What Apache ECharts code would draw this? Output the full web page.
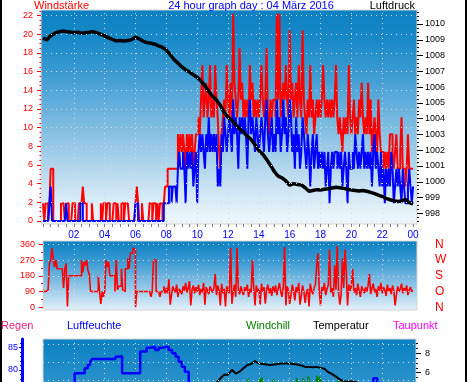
<!DOCTYPE html>
<html><head><meta charset="utf-8">
<script src="https://cdn.jsdelivr.net/npm/echarts@6/dist/echarts.min.js"></script>
<style>html,body{margin:0;padding:0;background:#fff}#c{width:470px;height:382px}</style>
</head><body><div id="c"></div>
<script>
// ---------------- DATA ----------------
// 5-minute samples, 00:00 .. 24:00 (km/h)
const windGust = [
1.9,0,1.9,1.9,0,1.9,5.6,5.6,0,0,0,0,
0,0,1.9,1.9,1.9,0,1.9,1.9,0,0,0,1.9,
1.9,0,0,0,1.9,1.9,1.9,3.7,1.9,1.9,0,0,
0,0,1.9,0,0,0,0,0,0,1.9,0,1.9,
1.9,0,1.9,1.9,0,0,0,1.9,1.9,0,1.9,0,
0,1.9,1.9,0,1.9,1.9,1.9,0,0,0,0,0,
1.9,3.7,1.9,0,0,1.9,0,0,0,0,0,1.9,
1.9,0,1.9,1.9,0,1.9,0,1.9,1.9,0,1.9,3.7,
3.7,5.6,5.6,5.6,5.6,5.6,5.6,5.6,5.6,9.3,7.4,9.3,
7.4,9.3,7.4,5.6,9.3,7.4,9.3,7.4,9.3,5.6,7.4,9.3,
9.3,11.1,9.3,13,16.7,11.1,13,14.8,11.1,13,16.7,11.1,
13,11.1,16.7,13,11.1,7.4,5.6,9.3,11.1,13,11.1,16.7,
13,11.1,14.8,11.1,22.2,14.8,13,11.1,13,18.5,13,14.8,
11.1,13,11.1,13,11.1,16.7,13,14.8,11.1,13,11.1,13,
11.1,13,16.7,13,11.1,13,18.5,11.1,9.3,13,11.1,13,
13,11.1,22.2,13,22.2,11.1,13,14.8,13,16.7,13,11.1,
20.4,13,14.8,11.1,13,14.8,11.1,16.7,13,11.1,20.4,13,
11.1,9.3,13,11.1,16.7,11.1,13,9.3,11.1,13,11.1,13,
11.1,13,16.7,13,11.1,13,11.1,13,11.1,13,11.1,13,
16.7,11.1,9.3,11.1,9.3,7.4,11.1,9.3,11.1,9.3,16.7,11.1,
9.3,11.1,13,9.3,11.1,9.3,13,11.1,14.8,11.1,9.3,11.1,
9.3,14.8,9.3,13,7.4,9.3,11.1,9.3,7.4,13,9.3,7.4,
7.4,5.6,7.4,5.6,7.4,5.6,9.3,9.3,7.4,5.6,7.4,9.3,
5.6,5.6,7.4,11.1,5.6,5.6,3.7,5.6,9.3,5.6,5.6,5.6,
5.6];
const windSpeed = [
0,0,0,0,0,1.9,3.7,0,0,0,0,0,
0,0,0,0,0,0,1.9,0,0,0,0,0,
0,0,0,0,0,1.9,1.9,0,0,0,0,0,
0,0,0,0,0,0,0,0,0,0,0,0,
0,0,0,0,0,0,0,0,0,0,0,0,
0,0,0,0,0,0,0,0,0,0,0,0,
1.9,1.9,0,0,0,0,0,0,0,0,0,0,
0,0,0,0,0,0,0,0,0,0,1.9,1.9,
1.9,1.9,3.7,3.7,1.9,3.7,3.7,3.7,1.9,5.6,7.4,5.6,
5.6,7.4,5.6,1.9,7.4,5.6,7.4,5.6,7.4,3.7,5.6,7.4,
1.9,7.4,9.3,7.4,9.3,7.4,5.6,9.3,7.4,11.1,7.4,9.3,
7.4,9.3,7.4,9.3,3.7,5.6,3.7,9.3,7.4,11.1,9.3,7.4,
9.3,11.1,9.3,7.4,13,9.3,11.1,9.3,5.6,11.1,9.3,11.1,
9.3,11.1,9.3,5.6,11.1,13,9.3,11.1,9.3,7.4,11.1,9.3,
7.4,9.3,11.1,9.3,7.4,11.1,13,9.3,7.4,9.3,11.1,7.4,
9.3,7.4,13,9.3,11.1,7.4,9.3,13,9.3,11.1,7.4,9.3,
13,11.1,7.4,9.3,5.6,11.1,7.4,9.3,5.6,7.4,11.1,9.3,
7.4,5.6,9.3,7.4,3.7,7.4,9.3,5.6,7.4,9.3,5.6,7.4,
5.6,7.4,5.6,7.4,3.7,5.6,7.4,1.9,5.6,7.4,5.6,7.4,
7.4,5.6,7.4,5.6,7.4,3.7,5.6,7.4,5.6,1.9,7.4,5.6,
5.6,7.4,5.6,9.3,7.4,5.6,7.4,5.6,7.4,9.3,5.6,7.4,
5.6,7.4,5.6,7.4,3.7,7.4,9.3,5.6,7.4,5.6,3.7,7.4,
3.7,5.6,1.9,5.6,3.7,5.6,3.7,7.4,5.6,1.9,3.7,5.6,
3.7,5.6,3.7,1.9,5.6,3.7,1.9,1.9,3.7,5.6,3.7,1.9,
3.7];
// wind direction, degrees, 5-minute samples
const windDir = [
90,90,90,100,110,250,270,340,280,230,270,220,
220,220,220,220,110,220,250,5,180,180,180,180,
180,180,180,180,180,180,270,200,260,240,270,210,
190,90,90,90,90,90,90,180,90,20,90,60,
90,270,230,260,180,180,180,180,90,270,100,120,
120,220,100,90,220,220,280,220,310,310,340,330,
0,90,90,90,90,90,90,90,90,90,90,90,
60,90,270,270,90,90,90,60,90,90,120,80,
110,80,160,15,70,120,100,85,130,60,105,90,
75,120,95,140,85,110,150,10,100,125,80,115,
90,130,70,105,85,140,15,115,95,75,120,100,
85,110,190,70,125,95,10,135,80,105,5,120,
95,80,340,20,85,130,60,340,100,75,120,90,
70,115,95,130,60,105,85,270,110,10,125,90,
105,15,135,90,115,20,100,130,80,110,65,120,
85,125,70,105,140,90,60,115,345,10,120,95,
20,70,130,95,40,115,85,140,15,65,125,90,
25,85,105,5,135,95,75,110,130,240,310,90,
10,115,95,140,70,105,125,330,85,110,60,240,
100,350,90,15,70,280,110,330,200,10,130,95,
120,220,85,110,70,135,95,60,120,100,80,115,
90,125,190,75,110,135,85,105,60,120,95,140,
80,115,100,65,130,90,110,75,125,95,10,70,
120,90,105,135,80,110,95,125,70,100,115,90,
95];
// air pressure hPa, 15-minute samples
const pressure = [
1009.10,1009.00,1009.25,1009.40,1009.50,1009.55,1009.52,1009.50,1009.45,1009.48,1009.42,1009.45,
1009.48,1009.52,1009.44,1009.35,1009.25,1009.12,1009.02,1008.93,1008.95,1008.92,1008.95,1009.02,
1009.18,1009.05,1008.90,1008.82,1008.78,1008.72,1008.62,1008.52,1008.35,1008.05,1007.75,1007.52,
1007.28,1007.10,1006.95,1006.78,1006.62,1006.38,1006.10,1005.72,1005.42,1005.18,1004.85,1004.38,
1004.10,1003.90,1003.62,1003.35,1003.15,1002.88,1002.68,1002.35,1001.98,1001.75,1001.42,1001.05,
1000.65,1000.35,1000.25,1000.05,999.78,999.88,999.82,999.80,999.62,999.40,999.45,999.50,
999.48,999.52,999.55,999.60,999.65,999.62,999.58,999.52,999.48,999.45,999.42,999.44,
999.40,999.33,999.25,999.15,999.05,998.95,998.86,998.80,998.75,998.78,998.88,998.68,
998.60];
// temperature °C, 15-minute samples
const temperature = [
3.8,3.7,3.7,3.6,3.6,3.5,3.5,3.4,3.4,3.3,3.3,3.3,
3.2,3.2,3.1,3.1,3.0,3.0,3.0,2.9,2.9,2.9,2.8,2.8,
2.8,2.9,2.9,3.0,3.1,3.2,3.3,3.4,3.5,3.6,3.7,3.8,
3.9,4.0,4.1,4.2,4.3,4.4,4.6,4.7,4.8,4.95,5.4,5.8,
5.8,6.3,5.9,6.1,6.45,6.8,6.9,7.2,6.95,6.9,6.85,6.8,
6.85,6.9,6.95,6.95,6.95,6.9,6.85,6.75,6.6,6.6,6.55,6.6,
6.5,6.4,6.05,5.85,5.6,5.3,5.12,5.1,5.1,5.05,4.9,4.7,
4.5,4.4,4.3,4.2,4.1,4.0,3.9,3.8,3.7,3.6,3.6,3.5,
3.5];
// windchill °C, change points (hour, value)
const wcHours = [0,2,4,6,8,10,11,12,13,13.3,13.42,13.6,14.07,14.13,14.18,14.26,14.6,14.94,15.05,15.5,16,16.45,16.56,16.88,16.95,17.2,17.3,17.75,17.85,17.95,18.07,18.5,19.07,19.17,19.22,19.3,20,21,22,23,24];
const windchill = [3.5,3.1,2.8,2.6,2.1,2.6,3.0,3.8,4.5,5.35,4.7,4.9,5.42,4.8,5.49,4.7,4.6,5.35,4.6,4.7,4.8,5.42,4.8,5.42,4.9,5.63,4.8,5.69,4.9,5.6,4.6,4.3,5.15,4.4,5.1,4.0,3.8,3.2,2.8,2.5,2.3];
// dew point °C, hourly
const dewPoint = [0.5,0.6,0.8,0.9,0.9,0.9,0.8,0.8,0.9,1.0,0.9,0.6,0.4,0.3,0.2,0.3,0.4,0.5,0.6,0.7,0.6,0.5,0.4,0.3,0.2];
// humidity %, change points
const humHours = [0,1,2.05,2.7,2.9,3.05,3.17,4.7,4.85,5.13,6.3,6.72,6.94,7.27,7.5,7.7,8.15,8.37,8.6,8.8,9.0,9.2,9.45,10,11,12,13,14,15,16,17,18,19,20,21,21.42,21.68,22,23,24];
const humidity = [76,77,79.3,80.4,81.1,81.8,82.4,82.9,83.1,79.3,84.1,84.9,85.1,84.4,84.9,85.1,84.4,83.7,82.9,81.8,80.7,79.6,76,72,68,65,63,62,63,65,68,71,73,75,77,78.2,77,76,76,76];

// ticks / labels
const hourTickValues = [2,4,6,8,10,12,14,16,18,20,22,24];
const hourTickLabels = ['02','04','06','08','10','12','14','16','18','20','22','00'];
const windTicks = [0,2,4,6,8,10,12,14,16,18,20,22];
const pressTicks = [998,999,1000,1001,1002,1003,1004,1005,1006,1007,1008,1009,1010];
const dirTicks = [0,90,180,270,360];
const dirNames = ['N','O','S','W','N'];
const humTicks = [60,65,70,75,80,85];
const tempTicks = [-2,0,2,4,6,8];
const botGridValues = [85.7,81.8,77.8,73.8,69.8,65.9,61.9];

// ---------------- LAYOUT ----------------
const F = '"Liberation Sans", Arial, sans-serif';
const RED = '#ff0000', BLUE = '#0000ff';
const HOUR0_X = 43, PX_PER_HOUR = 15.42;
const hourAt = px => (px - HOUR0_X) / PX_PER_HOUR;
const TOP = {l:41, r:417, t:10, b:224};
const MID = {l:43, r:417, t:241, b:310};
const BOT = {l:43, r:416, t:339, b:469};
const WIND0_Y = 221, WIND_PX = 9.336;
const P998_Y = 213.3, P_PX = 15.775;
const DIR0_Y = 307.3, DIR_PX = 0.175;
const H85_Y = 347.3, H_PX = 4.54;
const T8_Y = 353.3, T_PX = 9.7;

function range(a, b, s) { const r = []; for (let v = a; v <= b + 1e-9; v += s) r.push(Math.round(v * 1000) / 1000); return r; }
const halfHours = range(0, 24, 0.5);

const grad = stops => ({type:'linear', x:0, y:0, x2:0, y2:1, colorStops: stops.map(s => ({offset:s[0], color:s[1]}))});
function gridOf(g, bg) {
  return {left:g.l, top:g.t, width:g.r - g.l, height:g.b - g.t, show:true, backgroundColor:bg,
          borderColor:'#d4d4d4', borderWidth:1, containLabel:false, outerBoundsMode:'none'};
}
function yAx(grid, pos, min, max, o) {
  const base = {gridIndex:grid, type:'value', position:pos, min:min, max:max,
    axisLine:{show:false, onZero:false}, splitLine:{show:false}, axisTick:{show:false}, axisLabel:{show:false}};
  const r = Object.assign(base, o);
  r.axisLine = Object.assign({onZero:false}, r.axisLine);
  return r;
}
function xAx(grid, g, o) {
  return Object.assign({gridIndex:grid, type:'value', position:'bottom', min:hourAt(g.l), max:hourAt(g.r),
    axisLine:{show:false, onZero:false}, splitLine:{show:false}, axisTick:{show:false}, axisLabel:{show:false}}, o);
}
function gridLines(xi, yi, hv, vv) {
  return {type:'line', xAxisIndex:xi, yAxisIndex:yi, data:[], silent:true, z:1, animation:false,
    markLine:{silent:true, symbol:['none','none'], animation:false, label:{show:false},
      emphasis:{disabled:true},
      lineStyle:{color:'#d8d8d8', width:1, type:[1,4]},
      data: hv.map(v => ({yAxis:v})).concat(vv.map(v => ({xAxis:v})))}};
}
const pairs = (xs, ys) => ys.map((y, i) => [xs[i], y]);
const t5 = windGust.map((_, i) => i / 12);
const t15 = pressure.map((_, i) => i / 4);
const t60 = dewPoint.map((_, i) => i);

const windMin = -(TOP.b - WIND0_Y) / WIND_PX, windMax = (WIND0_Y - TOP.t) / WIND_PX;
const pMin = 998 - (TOP.b - P998_Y) / P_PX, pMax = 998 + (P998_Y - TOP.t) / P_PX;
const dMin = -(MID.b - DIR0_Y) / DIR_PX, dMax = (DIR0_Y - MID.t) / DIR_PX;
const hMin = 85 - (BOT.b - H85_Y) / H_PX, hMax = 85 + (H85_Y - BOT.t) / H_PX;
const tMin = 8 - (BOT.b - T8_Y) / T_PX, tMax = 8 + (T8_Y - BOT.t) / T_PX;

const gTop = grad([[0,'#0a80c2'],[0.15,'#1a8ac8'],[0.35,'#4aa2d6'],[0.55,'#80bde2'],[0.75,'#b6d9ef'],[0.9,'#dcedf8'],[1,'#f2f8fd']]);
const gMid = grad([[0,'#0a80c2'],[0.3,'#3a9ad2'],[0.7,'#9ccbea'],[1,'#e6f2fa']]);
const gBot = grad([[0,'#0a80c2'],[0.33,'#2a92cc'],[0.6,'#7ab9e0'],[1,'#e8f3fa']]);

const lbl = (color, size, margin, extra) => Object.assign({show:true, color:color, fontSize:size, margin:margin, fontFamily:F}, extra || {});
const plain = v => String(Math.round(v));

const option = {
  animation:false,
  backgroundColor:'#ffffff',
  grid:[gridOf(TOP, gTop), gridOf(MID, gMid), gridOf(BOT, gBot)],
  xAxis:[
    xAx(0, TOP, {axisTick:{show:true, customValues:halfHours, length:3, lineStyle:{color:'#808080'}},
      axisLabel:lbl(BLUE, 10, 6, {customValues:hourTickValues,
        formatter: v => hourTickLabels[hourTickValues.indexOf(Math.round(v))]})}),
    xAx(1, MID, {}),
    xAx(2, BOT, {})
  ],
  yAxis:[
    yAx(0, 'left', windMin, windMax, {axisTick:{show:true, customValues:windTicks, length:4, lineStyle:{color:RED}},
      axisLabel:lbl(RED, 9, 8, {customValues:windTicks, formatter:plain})}),
    yAx(0, 'left', windMin, windMax, {axisTick:{show:true, customValues:range(0, 22.5, 0.5), length:1.5, lineStyle:{color:RED}}}),
    yAx(0, 'right', pMin, pMax, {axisTick:{show:true, customValues:pressTicks, length:6, lineStyle:{color:'#000'}},
      axisLabel:lbl('#000', 9, 8, {customValues:pressTicks, formatter:plain})}),
    yAx(0, 'right', pMin, pMax, {axisTick:{show:true, customValues:range(997.5, 1010.75, 0.25), length:2, lineStyle:{color:'#000'}}}),
    yAx(1, 'left', dMin, dMax, {axisTick:{show:true, customValues:dirTicks, length:4, lineStyle:{color:RED}},
      axisLabel:lbl(RED, 9, 8, {customValues:dirTicks, formatter:plain})}),
    yAx(1, 'left', dMin, dMax, {axisTick:{show:true, customValues:[45,135,225,315], length:2, lineStyle:{color:RED}}}),
    yAx(1, 'right', dMin, dMax, {axisLabel:lbl(RED, 12, 18, {customValues:dirTicks,
      formatter: v => dirNames[dirTicks.indexOf(Math.round(v))]})}),
    yAx(2, 'left', hMin, hMax, {offset:BOT.l - 22, axisLine:{show:true, onZero:false, lineStyle:{color:BLUE, width:3}},
      axisTick:{show:true, customValues:humTicks, length:3, lineStyle:{color:BLUE}},
      axisLabel:lbl(BLUE, 9, 4, {customValues:humTicks, formatter:plain})}),
    yAx(2, 'left', hMin, hMax, {offset:BOT.l - 22, axisTick:{show:true, customValues:range(59, 86, 1), length:2, lineStyle:{color:BLUE}}}),
    yAx(2, 'right', tMin, tMax, {axisTick:{show:true, customValues:tempTicks, length:5, lineStyle:{color:'#000'}},
      axisLabel:lbl('#000', 9, 9, {customValues:tempTicks, formatter:plain})}),
    yAx(2, 'right', tMin, tMax, {axisTick:{show:true, customValues:range(-3.5, 9, 0.5), length:2, lineStyle:{color:'#000'}}})
  ],
  series:[
    gridLines(0, 0, windTicks, hourTickValues.slice(0, 11)),
    {type:'line', name:'Böen', xAxisIndex:0, yAxisIndex:0, step:'end', showSymbol:false, z:2,
      lineStyle:{color:RED, width:2}, data:pairs(t5, windGust)},
    {type:'line', name:'Wind', xAxisIndex:0, yAxisIndex:0, step:'end', showSymbol:false, z:3,
      lineStyle:{color:BLUE, width:2}, data:pairs(t5, windSpeed)},
    {type:'line', name:'Luftdruck', xAxisIndex:0, yAxisIndex:2, showSymbol:false, z:4,
      lineStyle:{color:'#000', width:3.5}, data:pairs(t15, pressure)},
    gridLines(1, 4, [90,180,270,360], hourTickValues.slice(0, 11)),
    {type:'line', name:'Richtung', xAxisIndex:1, yAxisIndex:4, step:'end', showSymbol:false, z:2,
      lineStyle:{color:RED, width:1.6}, data:pairs(t5, windDir)},
    gridLines(2, 7, botGridValues, hourTickValues.slice(0, 11)),
    {type:'line', name:'Taupunkt', xAxisIndex:2, yAxisIndex:9, showSymbol:false, z:2,
      lineStyle:{color:'#ff00ff', width:2}, data:pairs(t60, dewPoint)},
    {type:'line', name:'Windchill', xAxisIndex:2, yAxisIndex:9, step:'end', showSymbol:false, z:3,
      lineStyle:{color:'#008000', width:1.6}, data:pairs(wcHours, windchill)},
    {type:'line', name:'Temperatur', xAxisIndex:2, yAxisIndex:9, showSymbol:false, z:4,
      lineStyle:{color:'#000', width:2}, data:pairs(t15, temperature)},
    {type:'line', name:'Luftfeuchte', xAxisIndex:2, yAxisIndex:7, step:'end', showSymbol:false, z:5,
      lineStyle:{color:BLUE, width:2.5}, data:pairs(humHours, humidity)}
  ],
  graphic:[
    {type:'rect', shape:{x:0, y:0, width:2, height:382}, style:{fill:'#000'}},
    {type:'rect', shape:{x:465, y:0, width:2, height:382}, style:{fill:'#000'}},
    {type:'text', style:{x:34, y:6, text:'Windstärke', fill:RED, font:'11px ' + F, textVerticalAlign:'middle'}},
    {type:'text', style:{x:251, y:6, text:'24 hour graph day : 04 März 2016', fill:BLUE, font:'11px ' + F, textAlign:'center', textVerticalAlign:'middle'}},
    {type:'text', style:{x:415, y:6, text:'Luftdruck', fill:'#000', font:'11px ' + F, textAlign:'right', textVerticalAlign:'middle'}},
    {type:'text', style:{x:1, y:326, text:'Regen', fill:'#f0207a', font:'11px ' + F, textVerticalAlign:'middle'}},
    {type:'text', style:{x:67, y:326, text:'Luftfeuchte', fill:BLUE, font:'11px ' + F, textVerticalAlign:'middle'}},
    {type:'text', style:{x:246, y:326, text:'Windchill', fill:'#008000', font:'11px ' + F, textVerticalAlign:'middle'}},
    {type:'text', style:{x:313, y:326, text:'Temperatur', fill:'#000', font:'11px ' + F, textVerticalAlign:'middle'}},
    {type:'text', style:{x:393, y:326, text:'Taupunkt', fill:'#ff00ff', font:'11px ' + F, textVerticalAlign:'middle'}}
  ]
};
const chart = echarts.init(document.getElementById('c'), null, {renderer:'canvas'});
chart.setOption(option);
</script></body></html>
